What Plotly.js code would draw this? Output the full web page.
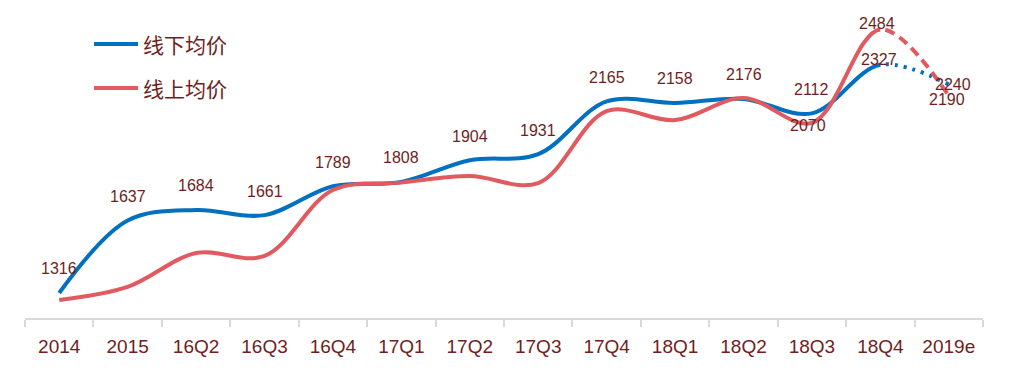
<!DOCTYPE html>
<html>
<head>
<meta charset="utf-8">
<script src="https://cdn.plot.ly/plotly-3.0.1.min.js"></script>
<style>html,body{margin:0;padding:0;background:#fff;}#chart{width:1015px;height:370px;}</style>
</head>
<body>
<div id="chart"></div>
<script>
// ---- data ----
const categories = ['2014','2015','16Q2','16Q3','16Q4','17Q1','17Q2','17Q3','17Q4','18Q1','18Q2','18Q3','18Q4','2019e'];
const offlinePrice = [1316,1637,1684,1661,1789,1808,1904,1931,2165,2158,2176,2112,2327,2240]; // 线下均价
const onlinePrice  = [1285,1343,1493,1480,1772,1805,1834,1803,2122,2082,2180,2070,2484,2190]; // 线上均价
const offlineName = '线下均价';
const onlineName = '线上均价';
// which points carry a value label
const offlineLabelIdx = [0,1,2,3,4,5,6,7,8,9,10,11,12,13];
const onlineLabelIdx = [11,12,13];

// ---- style ----
const BLUE = '#0070C0', RED = '#E05A60', TXT = '#701E1E';
const N = categories.length;
const estStart = N - 2;                 // index where the estimate segment starts (18Q4)
const splitFrac = (estStart + 0.5) / N; // paper fraction of the 18Q4 centre

const lineBase = {type:'scatter', mode:'lines', hoverinfo:'skip', showlegend:false};
const traces = [
  // invisible carrier for the tick axis
  Object.assign({}, lineBase, {x: categories, y: offlinePrice, mode:'none', xaxis:'x', yaxis:'y'}),
  // solid part (clipped at 18Q4 by the axis domain)
  Object.assign({}, lineBase, {x: categories, y: offlinePrice, name: offlineName, xaxis:'x2', yaxis:'y',
    line:{color:BLUE, width:4, shape:'spline', smoothing:1}}),
  Object.assign({}, lineBase, {x: categories, y: onlinePrice, name: onlineName, xaxis:'x2', yaxis:'y',
    line:{color:RED, width:4, shape:'spline', smoothing:1}}),
  // estimate part (from 18Q4 on)
  Object.assign({}, lineBase, {x: categories, y: offlinePrice, name: offlineName, xaxis:'x3', yaxis:'y',
    line:{color:BLUE, width:4, shape:'spline', smoothing:1, dash:'3px,6px'}}),
  Object.assign({}, lineBase, {x: categories, y: onlinePrice, name: onlineName, xaxis:'x3', yaxis:'y',
    line:{color:RED, width:4, shape:'spline', smoothing:1, dash:'10px,6px'}})
];

// label offsets (px)
function offShift(i){
  if (i === 12) return {dx:-1, dy:5};
  if (i === 13) return {dx:4, dy:0};
  return {dx:0, dy:24};
}
function onShift(i){
  if (i === 11) return {dx:-4, dy:-3};
  if (i === 12) return {dx:-3, dy:6};
  return {dx:-2, dy:-4};
}
const labelFont = {family:'Liberation Sans, Arial, sans-serif', size:16, color:TXT};
const annotations = [];
offlineLabelIdx.forEach(i => {
  const s = offShift(i);
  annotations.push({xref:'x', yref:'y', x: i, y: offlinePrice[i], text: String(offlinePrice[i]), showarrow:false,
    xshift:s.dx, yshift:s.dy, font:labelFont});
});
onlineLabelIdx.forEach(i => {
  const s = onShift(i);
  annotations.push({xref:'x', yref:'y', x: i, y: onlinePrice[i], text: String(onlinePrice[i]), showarrow:false,
    xshift:s.dx, yshift:s.dy, font:labelFont});
});

// manual legend (line sample + text)
const legendItems = [{name: offlineName, color: BLUE, y: 0.8896}, {name: onlineName, color: RED, y: 0.7468}];
const shapes = [];
legendItems.forEach(it => {
  shapes.push({type:'line', xref:'paper', yref:'paper', x0:0.072, x1:0.118, y0:it.y, y1:it.y,
    line:{color:it.color, width:4}});
  annotations.push({xref:'paper', yref:'paper', x:0.121, y:it.y, xanchor:'left', yanchor:'middle',
    text: it.name, showarrow:false, font:{family:'Noto Sans CJK SC, sans-serif', size:21, color:TXT}});
});

const hiddenX = {type:'category', categoryorder:'array', categoryarray:categories, visible:false,
  showgrid:false, zeroline:false, fixedrange:true, anchor:'y'};

const layout = {
  width:1015, height:370,
  margin:{l:25, r:32, t:10, b:52},
  paper_bgcolor:'#fff', plot_bgcolor:'rgba(0,0,0,0)',
  showlegend:false,
  xaxis:{type:'category', categoryorder:'array', categoryarray:categories, domain:[0,1], range:[-0.5, N-0.5],
    showline:true, linecolor:'#D9D9D9', linewidth:2,
    ticks:'outside', tickson:'boundaries', ticklen:7, tickcolor:'#D9D9D9', tickwidth:2,
    showgrid:false, zeroline:false, ticklabelstandoff:10,
    tickfont:{family:'Liberation Sans, Arial, sans-serif', size:19, color:TXT}, fixedrange:true},
  xaxis2: Object.assign({}, hiddenX, {domain:[0, splitFrac], range:[-0.5, estStart]}),
  xaxis3: Object.assign({}, hiddenX, {domain:[splitFrac, 1], range:[estStart, N-0.5]}),
  yaxis:{range:[1205, 2570], visible:false, showgrid:false, zeroline:false, fixedrange:true},
  shapes: shapes,
  annotations: annotations
};

Plotly.newPlot('chart', traces, layout, {staticPlot:true, displayModeBar:false});
</script>
</body>
</html>
